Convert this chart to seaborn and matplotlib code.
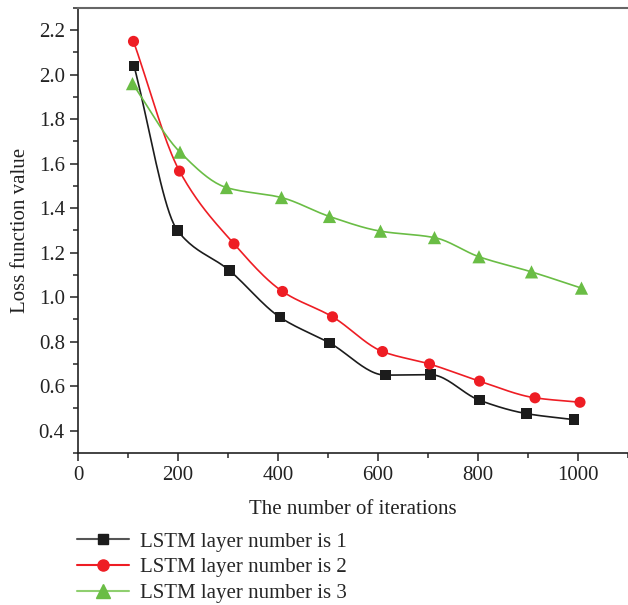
import numpy as np
import matplotlib
matplotlib.use("Agg")
import matplotlib.pyplot as plt
import seaborn as sns
from matplotlib.lines import Line2D
from matplotlib.ticker import MultipleLocator

# values
iters_1 = [112, 199, 303, 404, 503, 615, 705, 803, 897, 992]
loss_1 = [2.04, 1.30, 1.12, 0.91, 0.795, 0.65, 0.652, 0.537, 0.477, 0.45]
iters_2 = [111, 203, 312, 409, 509, 609, 703, 803, 914, 1004]
loss_2 = [2.15, 1.567, 1.24, 1.026, 0.912, 0.756, 0.70, 0.623, 0.548, 0.528]
iters_3 = [109, 204, 297, 407, 503, 605, 713, 802, 907, 1007]
loss_3 = [1.96, 1.652, 1.493, 1.448, 1.363, 1.297, 1.268, 1.182, 1.114, 1.041]
labels = ["LSTM layer number is 1", "LSTM layer number is 2", "LSTM layer number is 3"]
colors = ["#1c1c1c", "#ee1d24", "#6abd45"]
leg_line = ["#555555", "#ee1d24", "#8fcf6f"]
markers = ["s", "o", "^"]
msizes = [7.5, 8, 9.5]


def smooth(x, y, n=200):
    # monotone cubic (pchip) curve through the points, like Origin's spline connect
    x = np.asarray(x, float)
    y = np.asarray(y, float)
    h = np.diff(x)
    d = np.diff(y) / h
    m = np.zeros_like(y)
    m[0], m[-1] = d[0], d[-1]
    for k in range(1, len(x) - 1):
        if d[k - 1] * d[k] > 0:
            w1 = 2 * h[k] + h[k - 1]
            w2 = h[k] + 2 * h[k - 1]
            m[k] = (w1 + w2) / (w1 / d[k - 1] + w2 / d[k])
    xs = np.linspace(x[0], x[-1], n)
    idx = np.clip(np.searchsorted(x, xs) - 1, 0, len(x) - 2)
    t = (xs - x[idx]) / h[idx]
    h00 = 2 * t**3 - 3 * t**2 + 1
    h10 = t**3 - 2 * t**2 + t
    h01 = -2 * t**3 + 3 * t**2
    h11 = t**3 - t**2
    ys = h00 * y[idx] + h10 * h[idx] * m[idx] + h01 * y[idx + 1] + h11 * h[idx] * m[idx + 1]
    return xs, ys


sns.set_theme(style="ticks")
plt.rcParams["font.family"] = ["Liberation Serif", "DejaVu Serif"]
plt.rcParams["font.size"] = 15

fig = plt.figure(figsize=(6.28, 6.05), dpi=100)
ax = fig.add_axes([78 / 628, 1 - 453 / 605, 1 - 78 / 628, (453 - 8) / 605])

series = [(iters_1, loss_1), (iters_2, loss_2), (iters_3, loss_3)]
for (xv, yv), c, mk, ms in zip(series, colors, markers, msizes):
    xs, ys = smooth(xv, yv)
    sns.lineplot(x=xs, y=ys, ax=ax, color=c, lw=1.2, sort=False, legend=False)
    sns.scatterplot(x=xv, y=yv, ax=ax, color=c, marker=mk, s=ms**2,
                    edgecolor="none", legend=False, zorder=3)

ax.set_xlim(0, 1100)
ax.set_ylim(0.3, 2.3)
ax.xaxis.set_major_locator(MultipleLocator(200))
ax.xaxis.set_minor_locator(MultipleLocator(100))
ax.yaxis.set_major_locator(MultipleLocator(0.2))
ax.yaxis.set_minor_locator(MultipleLocator(0.1))
ax.yaxis.set_major_formatter(matplotlib.ticker.FormatStrFormatter("%.1f"))
ax.tick_params(which="major", direction="out", length=6, width=1.1, labelsize=15, colors="#222222")
ax.tick_params(which="minor", direction="out", length=3.5, width=1.1)
ax.tick_params(axis="x", which="both", top=False)
ax.spines["right"].set_visible(False)
for s in ["left", "bottom"]:
    ax.spines[s].set_linewidth(1.2)
    ax.spines[s].set_color("#222222")
ax.spines["top"].set_linewidth(1.5)
ax.spines["top"].set_color("#666666")

ax.set_xlabel("The number of iterations", fontsize=15, color="#222222", labelpad=11)
ax.set_ylabel("Loss function value", fontsize=15, color="#222222", labelpad=6)

handles = [Line2D([], [], color=lc, lw=1.5, marker=mk, markersize=ms,
                  markerfacecolor=c, markeredgecolor=c)
           for lc, c, mk, ms in zip(leg_line, colors, markers, msizes)]
fig.legend(handles, labels, loc="upper left", bbox_to_anchor=(77 / 628, 1 - 532 / 605),
           frameon=False, fontsize=15, handlelength=2.5, handletextpad=0.5,
           labelspacing=0.3, borderaxespad=0, borderpad=0)

fig.savefig("out.png", dpi=100)
